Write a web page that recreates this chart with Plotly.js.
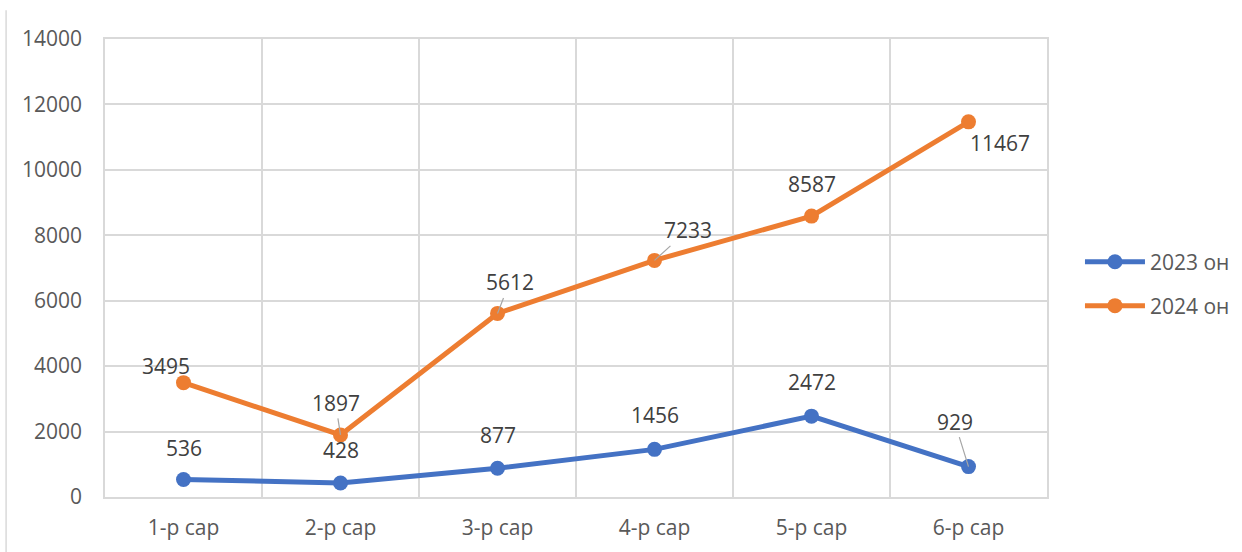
<!DOCTYPE html>
<html>
<head>
<meta charset="utf-8">
<script src="https://cdn.plot.ly/plotly-3.0.1.min.js"></script>
<style>html,body{margin:0;padding:0;background:#fff;}#chart{width:1242px;height:552px;}</style>
</head>
<body>
<div id="chart"></div>
<script>
const categories = ["1-р сар", "2-р сар", "3-р сар", "4-р сар", "5-р сар", "6-р сар"];
const series2023 = [536, 428, 877, 1456, 2472, 929];
const series2024 = [3495, 1897, 5612, 7233, 8587, 11467];
const seriesNames = ["2023 он", "2024 он"];
const yTicks = [0, 2000, 4000, 6000, 8000, 10000, 12000, 14000];

const FONT = "Open Sans, sans-serif";
const FS = 21;
const blue = "#4472C4", orange = "#ED7D31";

const traces = [
  {x: categories, y: series2023, name: seriesNames[0], type: "scatter", mode: "lines+markers",
   line: {color: blue, width: 5}, marker: {color: blue, size: 15}, legend: "legend"},
  {x: categories, y: series2024, name: seriesNames[1], type: "scatter", mode: "lines+markers",
   line: {color: orange, width: 5}, marker: {color: orange, size: 15}, legend: "legend2"}
];

// label offsets [ax, ay, leader]
const off2023 = [[0,-31,false],[0,-33,false],[0,-33,false],[0,-34,false],[0,-34,false],[-14,-45,true]];
const off2024 = [[-18,-17,false],[-5,-32,true],[12,-31,true],[33,-30,true],[0,-32,false],[31,21,false]];

const annotations = [];
function addLabels(vals, offs) {
  vals.forEach((v, i) => {
    const o = offs[i];
    const a = {x: categories[i], y: v, xref: "x", yref: "y", text: String(v),
      font: {family: FONT, size: FS, color: "#404040"}};
    if (o[2]) {
      Object.assign(a, {showarrow: true, arrowhead: 0, arrowwidth: 1.2, arrowcolor: "#a6a6a6",
        ax: o[0], ay: o[1], standoff: 0, startstandoff: 0});
    } else {
      Object.assign(a, {showarrow: false, xshift: o[0], yshift: -o[1]});
    }
    annotations.push(a);
  });
}
addLabels(series2023, off2023);
addLabels(series2024, off2024);

const layout = {
  width: 1242, height: 552,
  margin: {l: 105, r: 195, t: 39, b: 55, autoexpand: false},
  paper_bgcolor: "#fff", plot_bgcolor: "#fff",
  font: {family: FONT, size: FS, color: "#595959"},
  showlegend: true,
  xaxis: {type: "category", tickson: "boundaries", showgrid: true, gridcolor: "#d9d9d9", gridwidth: 1.5,
    showline: true, mirror: true, linecolor: "#d9d9d9", linewidth: 1.5, ticks: "",
    range: [-0.5, 5.5], ticklabelstandoff: 11, tickfont: {family: FONT, size: FS, color: "#595959"}},
  yaxis: {range: [0, 14000], tickvals: yTicks, ticktext: yTicks.map(String), showgrid: true,
    gridcolor: "#d9d9d9", gridwidth: 1.5, zeroline: false, showline: true, mirror: true,
    linecolor: "#d9d9d9", linewidth: 1.5, ticks: "", ticklabelstandoff: 17,
    tickfont: {family: FONT, size: FS, color: "#595959"}},
  legend: {x: 1.035, y: 0.513, xanchor: "left", yanchor: "middle", itemwidth: 60,
    font: {family: FONT, size: FS, color: "#595959"}, bgcolor: "rgba(0,0,0,0)"},
  legend2: {x: 1.035, y: 0.417, xanchor: "left", yanchor: "middle", itemwidth: 60,
    font: {family: FONT, size: FS, color: "#595959"}, bgcolor: "rgba(0,0,0,0)"},
  annotations: annotations,
  shapes: [{type: "line", xref: "paper", yref: "paper", x0: -0.105, x1: -0.105, y0: -0.13, y1: 1.063,
    line: {color: "#d9d9d9", width: 1.5}}]
};

Plotly.newPlot("chart", traces, layout, {displayModeBar: false, responsive: false});
</script>
</body>
</html>
